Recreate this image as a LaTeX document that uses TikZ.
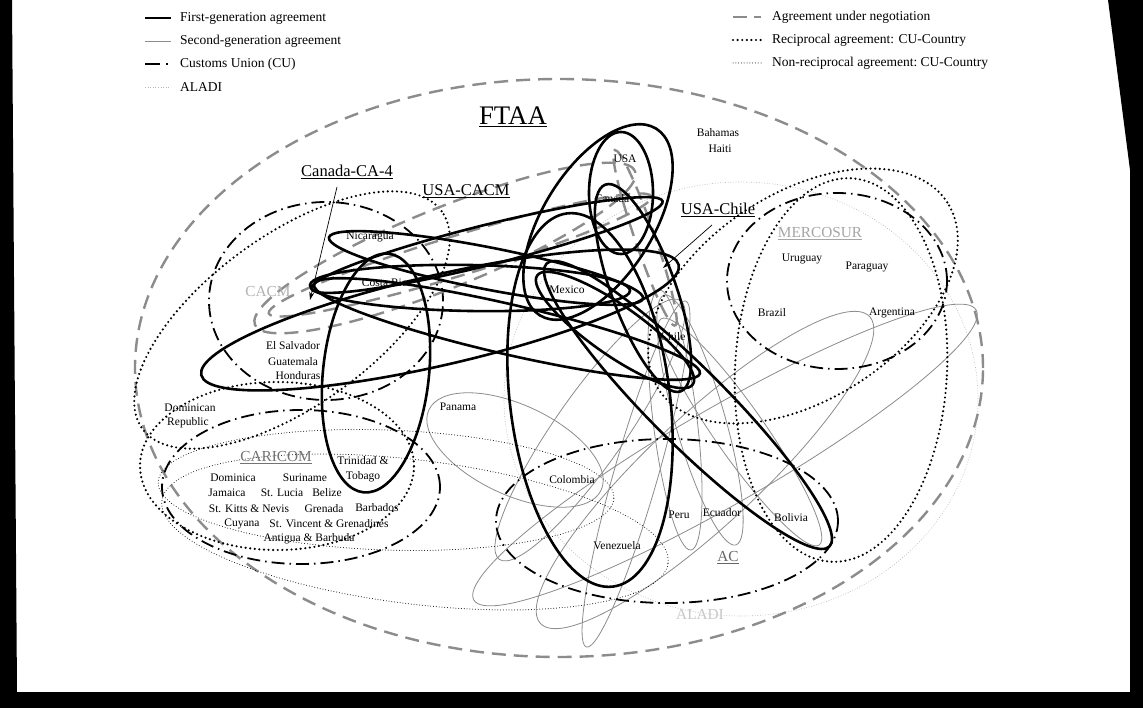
\documentclass[tikz,border=0pt]{standalone}
\usepackage{fontspec}
\setmainfont{Liberation Serif}
\usetikzlibrary{arrows.meta}
\newcommand{\DrawEll}[6]{\draw[#1, rotate around={#6:(#2,#3)}] (#2,#3) ellipse [x radius=#4pt, y radius=#5pt];}
\begin{document}
\begin{tikzpicture}[x=1pt,y=-1pt,
  sfirst/.style={draw=black, line width=2.6pt},
  ssecond/.style={draw=black!45, line width=0.8pt},
  scu/.style={draw=black, line width=1.8pt, dash pattern=on 13pt off 5pt on 1.5pt off 5pt},
  saladi/.style={draw=black!28, line width=0.6pt, dash pattern=on 0.8pt off 1.8pt},
  snego/.style={draw=black!45, line width=2.4pt, dash pattern=on 14pt off 8pt},
  srecip/.style={draw=black, line width=2.4pt, line cap=round, dash pattern=on 0pt off 4.6pt},
  snonrecip/.style={draw=black, line width=1pt, line cap=round, dash pattern=on 0pt off 2.8pt},
  cty/.style={font=\fontsize{11.5}{13}\selectfont, inner sep=0pt},
  leg/.style={font=\fontsize{13.5}{15}\selectfont, anchor=west, inner sep=0pt},
  agr/.style={font=\fontsize{16.5}{18}\selectfont, inner sep=1pt},
  grp/.style={font=\fontsize{15.3}{17}\selectfont, inner sep=1pt},
  arr/.style={draw=black, line width=0.7pt, -{Stealth[length=8pt,width=5pt]}}
]
\useasboundingbox (0,0) rectangle (1143,708);
\fill[white] (0,0) rectangle (1143,708);
% black frame of the scan
\fill[black] (0,0) -- (12,0) -- (17,692) -- (0,692) -- cycle;
\fill[black] (0,692) rectangle (1143,708);
\fill[black] (1108,0) -- (1143,0) -- (1143,708) -- (1130,708) -- (1130,170) -- cycle;

% ---- ALADI and FTAA
\DrawEll{saladi}{741}{399}{237}{217}{0}
\DrawEll{snego}{559}{368}{424}{289}{0}

% ---- second generation
\DrawEll{ssecond}{515}{450}{95}{45}{-25}
\DrawEll{ssecond}{590}{430}{158}{35}{55}
\DrawEll{ssecond}{636}{474}{180}{22}{74}
\DrawEll{ssecond}{675}{420}{131}{22}{97}
\DrawEll{ssecond}{700}{420}{130}{25}{106}
\DrawEll{ssecond}{705}{470}{225}{55}{43}
\DrawEll{ssecond}{725}{455}{290}{48}{30}
\DrawEll{ssecond}{740}{432}{138}{25}{-55}

% ---- non-reciprocal CU-country
\DrawEll{snonrecip}{386}{490}{228}{60}{-2}
\DrawEll{snonrecip}{415}{532}{255}{72}{-7}

% ---- customs unions
\DrawEll{scu}{326}{301}{117}{99}{0}
\DrawEll{scu}{301}{487}{139}{77}{0}
\DrawEll{scu}{837}{281}{110}{88}{0}
\DrawEll{scu}{667}{521}{171}{82}{0}

% ---- reciprocal CU-country
\DrawEll{srecip}{841}{370}{106}{192}{-3}
\DrawEll{srecip}{803}{296}{172}{103}{33}
\DrawEll{srecip}{292}{320}{185}{85}{36}
\DrawEll{srecip}{277}{466}{137}{84}{0}

% ---- under negotiation
\DrawEll{snego}{445}{248}{205}{40}{22}
\DrawEll{snego}{460}{255}{200}{20}{17}
\DrawEll{snego}{645}{238}{93}{10}{-71}

% ---- first generation
\DrawEll{sfirst}{621}{193}{32}{61}{0}
\DrawEll{sfirst}{598}{222}{110}{55}{58}
\DrawEll{sfirst}{470}{288}{160}{23}{-1}
\DrawEll{sfirst}{486}{268}{160}{21}{-11}
\DrawEll{sfirst}{487}{245}{181}{20}{14}
\DrawEll{sfirst}{376}{373}{53}{120}{-6}
\DrawEll{sfirst}{440}{320}{245}{45}{13}
\DrawEll{sfirst}{507}{329}{198}{25}{-13}
\DrawEll{sfirst}{615}{330}{95}{25}{-35}
\DrawEll{sfirst}{643}{288}{110}{32}{-70}
\DrawEll{sfirst}{688}{405}{200}{38}{-45}
\DrawEll{sfirst}{590}{400}{80}{188}{7}

% ---- legend
\coordinate (l1a) at (145,18); \coordinate (l1b) at (171,18);
\coordinate (l2a) at (145,41); \coordinate (l2b) at (171,41);
\coordinate (l3a) at (145,64); \coordinate (l3b) at (160,64); \coordinate (l3c) at (166,64); \coordinate (l3d) at (168,64);
\coordinate (l4a) at (145,87); \coordinate (l4b) at (171,87);
\coordinate (r1a) at (733,17); \coordinate (r1b) at (747,17); \coordinate (r1c) at (754,17); \coordinate (r1d) at (761,17);
\coordinate (r2a) at (733,40); \coordinate (r2b) at (761,40);
\coordinate (r3a) at (733,63); \coordinate (r3b) at (761,63);
\draw[sfirst] (l1a) -- (l1b);
\draw[ssecond] (l2a) -- (l2b);
\draw[draw=black, line width=1.8pt] (l3a) -- (l3b);
\draw[draw=black, line width=1.8pt] (l3c) -- (l3d);
\draw[saladi] (l4a) -- (l4b);
\draw[draw=black!45, line width=2.4pt] (r1a) -- (r1b);
\draw[draw=black!45, line width=2.4pt] (r1c) -- (r1d);
\draw[srecip] (r2a) -- (r2b);
\draw[snonrecip] (r3a) -- (r3b);
\node[leg] (t1) at (180,18) {First-generation agreement};
\node[leg] (t2) at (180,41) {Second-generation agreement};
\node[leg] (t3) at (180,64) {Customs Union (CU)};
\node[leg] (t4) at (180,87) {ALADI};
\node[leg] (t5) at (772,17) {Agreement under negotiation};
\node[leg] (t6) at (772,40) {Reciprocal agreement: CU-Country};
\node[leg] (t7) at (772,63) {Non-reciprocal agreement:\ CU-Country};

% ---- agreement labels
\node[font=\fontsize{26.8}{29}\selectfont, inner sep=1pt] (ftaa) at (513,117) {\underline{FTAA}};
\node[agr] (canca) at (347,172) {\underline{Canada-CA-4}};
\node[agr] (usacacm) at (466,191) {\underline{USA-CACM}};
\node[agr] (usachile) at (718,210) {\underline{USA-Chile}};
\coordinate (canca0) at (337,187); \coordinate (canca1) at (310,300);
\coordinate (usach0) at (712,225); \coordinate (usach1) at (663,268);
\draw[arr] (canca0) -- (canca1);
\draw[arr] (usach0) -- (usach1);

% ---- group labels
\node[grp, text=black!30] (cacm) at (268,292) {CACM};
\node[grp, text=black!55] (caricom) at (276,458) {\underline{CARICOM}};
\node[grp, text=black!35] (mercosur) at (820,234) {\underline{MERCOSUR}};
\node[grp, text=black!60] (ac) at (728,558) {\underline{AC}};
\node[grp, text=black!22] (aladi) at (700,614) {ALADI};

% ---- countries
\node[cty] (usa) at (625,159) {USA};
\node[cty] (canada) at (612,199) {Canada};
\node[cty] (mexico) at (567,290) {Mexico};
\node[cty] (bahamas) at (718,133) {Bahamas};
\node[cty] (haiti) at (720,149) {Haiti};
\node[cty] (nicaragua) at (370,237) {Nicaragua};
\node[cty] (costarica) at (387,283) {Costa Rica};
\node[cty] (elsalvador) at (293,346) {El Salvador};
\node[cty] (guatemala) at (293,362) {Guatemala};
\node[cty] (honduras) at (298,376) {Honduras};
\node[cty] (dominican) at (190,408) {Dominican};
\node[cty] (republic) at (188,423) {Republic};
\node[cty] (panama) at (458,407) {Panama};
\node[cty] (trinidad) at (363,461) {Trinidad \&};
\node[cty] (tobago) at (363,477) {Tobago};
\node[cty] (dominica) at (233,478) {Dominica};
\node[cty] (suriname) at (305,478) {Suriname};
\node[cty] (jamaica) at (227,493) {Jamaica};
\node[cty] (stlucia) at (282,493) {St. Lucia};
\node[cty] (belize) at (327,493) {Belize};
\node[cty] (stkitts) at (249,509) {St. Kitts \& Nevis};
\node[cty] (grenada) at (324,509) {Grenada};
\node[cty] (barbados) at (377,508) {Barbados};
\node[cty] (cuyana) at (242,524) {Cuyana};
\node[cty] (stvincent) at (329,524) {St. Vincent \& Grenadines};
\node[cty] (antigua) at (309,539) {Antigua \& Barbuda};
\node[cty] (colombia) at (572,480) {Colombia};
\node[cty] (venezuela) at (617,546) {Venezuela};
\node[cty] (peru) at (679,515) {Peru};
\node[cty] (ecuador) at (722,513) {Ecuador};
\node[cty] (bolivia) at (791,518) {Bolivia};
\node[cty] (chile) at (673,337) {Chile};
\node[cty] (brazil) at (772,313) {Brazil};
\node[cty] (argentina) at (892,313) {Argentina};
\node[cty] (uruguay) at (802,259) {Uruguay};
\node[cty] (paraguay) at (867,267) {Paraguay};
\end{tikzpicture}
\end{document}
